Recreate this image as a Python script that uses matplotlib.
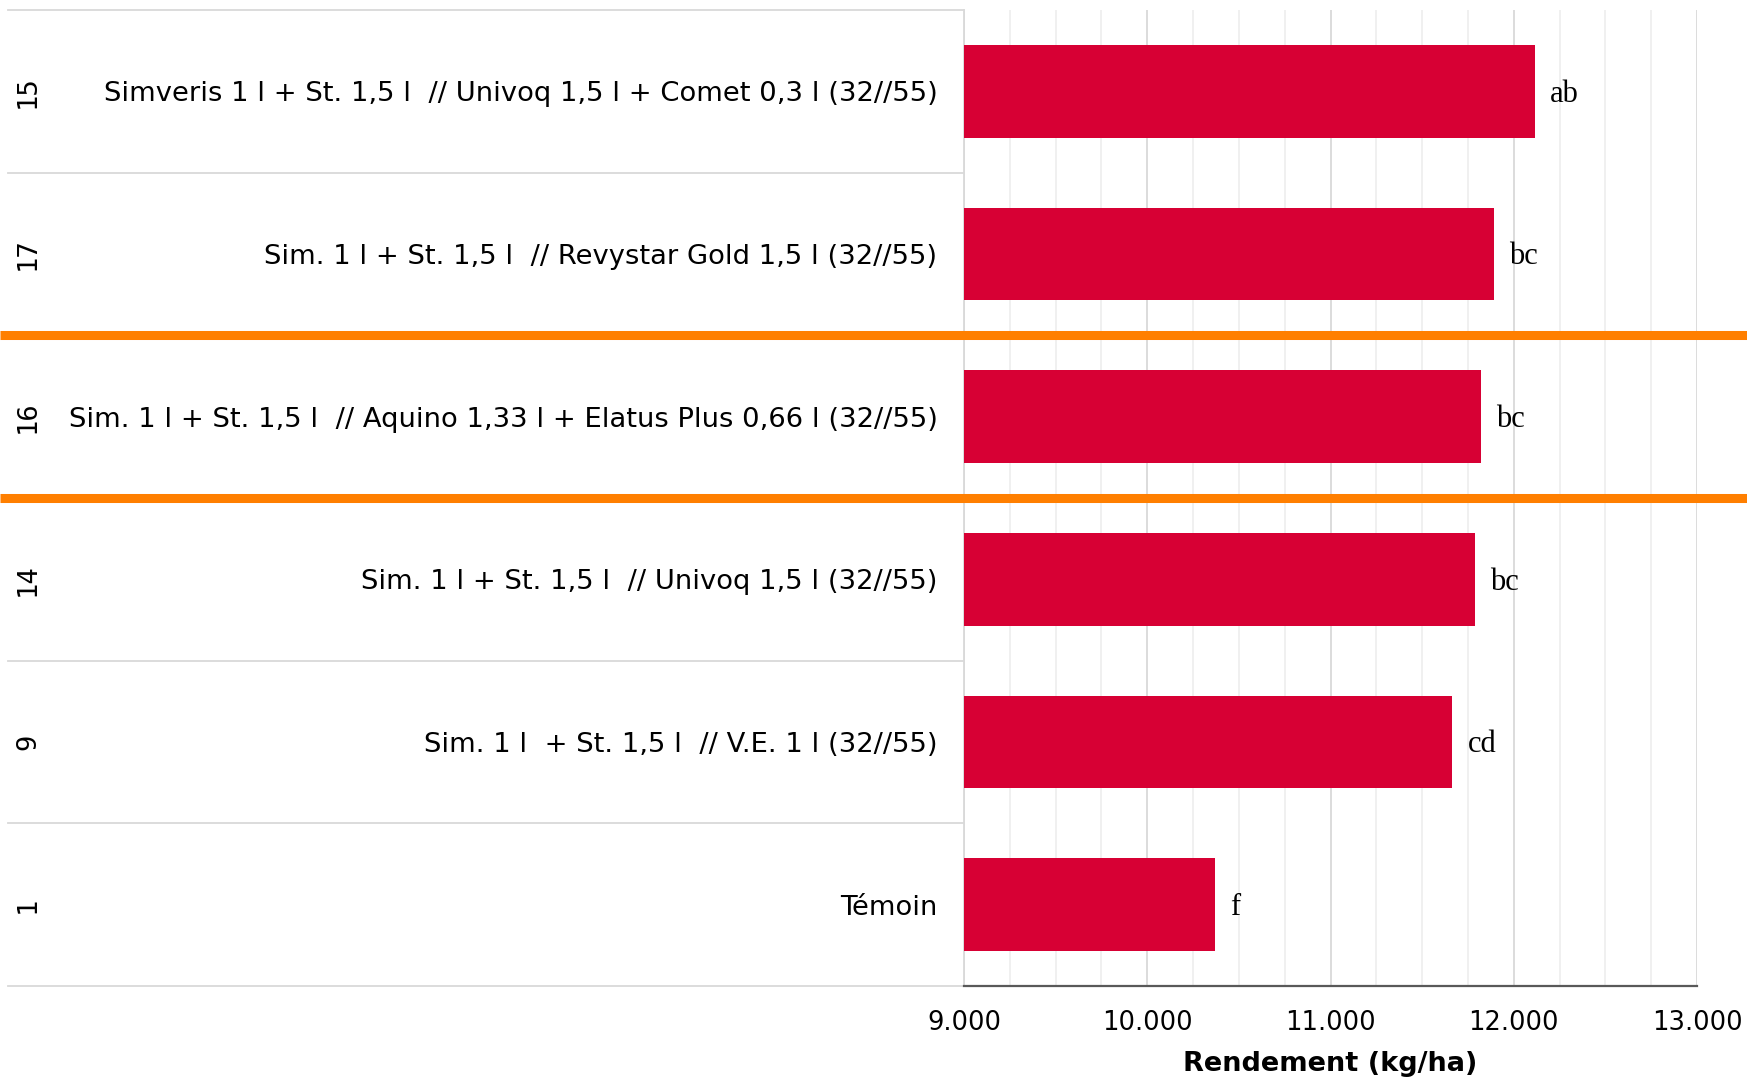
import matplotlib
matplotlib.use('Agg')
import matplotlib.pyplot as plt
import matplotlib.transforms as mtransforms
from matplotlib.ticker import MultipleLocator, FuncFormatter

# donnees (de haut en bas)
numeros = ['15', '17', '16', '14', '9', '1']
traitements = [
    'Simveris 1 l + St. 1,5 l  // Univoq 1,5 l + Comet 0,3 l (32//55)',
    'Sim. 1 l + St. 1,5 l  // Revystar Gold 1,5 l (32//55)',
    'Sim. 1 l + St. 1,5 l  // Aquino 1,33 l + Elatus Plus 0,66 l (32//55)',
    'Sim. 1 l + St. 1,5 l  // Univoq 1,5 l (32//55)',
    'Sim. 1 l  + St. 1,5 l  // V.E. 1 l (32//55)',
    'Témoin',
]
rendement = [12115, 11890, 11820, 11790, 11665, 10370]
lettres = ['ab', 'bc', 'bc', 'bc', 'cd', 'f']
lignes_orange = [1.5, 2.5]

W, H = 1747, 1077
fig = plt.figure(figsize=(W/100, H/100), dpi=100)
ax = fig.add_axes([964/W, 1-986/H, (1697-964)/W, 976/H])

y = list(range(len(rendement)))
ax.barh(y, [v-9000 for v in rendement], left=9000, height=0.57, color='#D70034', zorder=3)

ax.set_xlim(9000, 13000)
ax.set_ylim(len(rendement)-0.5, -0.5)

ax.xaxis.set_major_locator(MultipleLocator(1000))
ax.xaxis.set_minor_locator(MultipleLocator(250))
ax.xaxis.set_major_formatter(FuncFormatter(lambda v, p: f'{int(v):,}'.replace(',', '.')))
ax.grid(which='major', axis='x', color='#d9d9d9', linewidth=1.3, zorder=0)
ax.grid(which='minor', axis='x', color='#efefef', linewidth=1.3, zorder=0)
ax.tick_params(axis='x', which='both', length=0, labelsize=18.5, pad=17, labelcolor='black')

ax.set_yticks(y)
ax.set_yticklabels(traitements, fontsize=19.7)
ax.tick_params(axis='y', length=0, pad=19)

for s in ['top', 'right']:
    ax.spines[s].set_visible(False)
ax.spines['left'].set_color('#d9d9d9')
ax.spines['left'].set_linewidth(1.3)
ax.spines['bottom'].set_color('#595959')
ax.spines['bottom'].set_linewidth(1.6)

ax.set_xlabel('Rendement (kg/ha)', fontsize=19.5, fontweight='bold', labelpad=11)

# lettres de significativite
for i in range(len(rendement)):
    ax.annotate(lettres[i], (rendement[i], i), xytext=(11, -2), textcoords='offset points',
                va='center', ha='left', fontsize=22, family='Liberation Serif')

trans = mtransforms.blended_transform_factory(fig.transFigure, ax.transData)

# numeros verticaux
for i in range(len(numeros)):
    ax.text(28/W, i, numeros[i], transform=trans, rotation=90, ha='center', va='center',
            fontsize=19.5, family='DejaVu Sans Mono', clip_on=False)

# separateurs gris du tableau
for b in [k-0.5 for k in range(len(rendement)+1)]:
    ax.plot([8/W, 964/W], [b, b], transform=trans, color='#d9d9d9', linewidth=1.3,
            clip_on=False, zorder=1)

# lignes orange
for b in lignes_orange:
    ax.plot([0, 1], [b, b], transform=trans, color='#FF7F00', linewidth=6.5,
            clip_on=False, zorder=5, solid_capstyle='butt')

plt.savefig('out.png', dpi=100)
